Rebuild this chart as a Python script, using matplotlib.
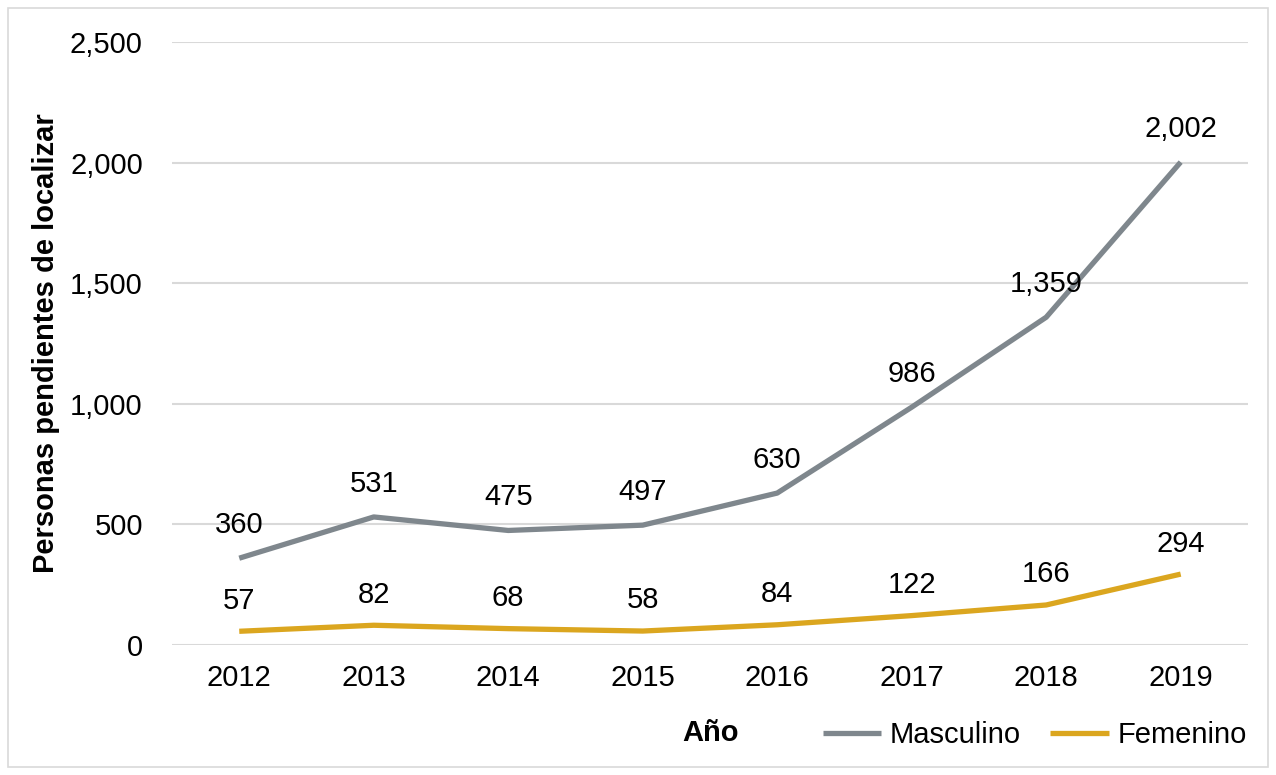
import matplotlib.pyplot as plt
from matplotlib.patches import Rectangle

plt.rcParams['font.family'] = ['Liberation Sans', 'DejaVu Sans']

anios = ['2012', '2013', '2014', '2015', '2016', '2017', '2018', '2019']
masculino = [360, 531, 475, 497, 630, 986, 1359, 2002]
femenino = [57, 82, 68, 58, 84, 122, 166, 294]

gris = '#7f878d'
oro = '#dba61f'

fig = plt.figure(figsize=(12.76, 7.75), dpi=100)
ax = fig.add_axes([0.1348, 0.1677, 0.8432, 0.7781])

x = list(range(len(anios)))
ax.plot(x, masculino, color=gris, lw=3.8, label='Masculino', solid_capstyle='butt')
ax.plot(x, femenino, color=oro, lw=3.8, label='Femenino', solid_capstyle='butt')

for xi, v in zip(x, masculino):
    ax.annotate('{:,}'.format(v), (xi, v), xytext=(0, 24), textcoords='offset points',
                ha='center', va='center', fontsize=21)
for xi, v in zip(x, femenino):
    ax.annotate('{:,}'.format(v), (xi, v), xytext=(0, 22), textcoords='offset points',
                ha='center', va='center', fontsize=21)

ax.set_xlim(-0.5, 7.5)
ax.set_ylim(0, 2500)
ax.set_yticks([0, 500, 1000, 1500, 2000, 2500])
ax.set_yticklabels(['{:,}'.format(t) for t in [0, 500, 1000, 1500, 2000, 2500]])
ax.set_xticks(x)
ax.set_xticklabels(anios)
ax.tick_params(axis='both', length=0, labelsize=21)
ax.tick_params(axis='y', pad=21)
ax.tick_params(axis='x', pad=14)
ax.grid(axis='y', color='#d9d9d9', lw=1.5)
ax.set_axisbelow(True)
for s in ax.spines.values():
    s.set_visible(False)

ax.set_ylabel('Personas pendientes de localizar', fontsize=21, fontweight='bold', labelpad=7)
fig.text(0.557, 0.054, 'Año', fontsize=21, fontweight='bold', ha='center', va='center')

fig.legend(loc='center', bbox_to_anchor=(0.811, 0.051), ncol=2, frameon=False,
           fontsize=21, handlelength=2.0, handletextpad=0.3, columnspacing=1.0)

fig.patches.append(Rectangle((0.006, 0.01), 0.988, 0.98, transform=fig.transFigure,
                             fill=False, edgecolor='#d9d9d9', lw=1.2))

fig.savefig('out.png', dpi=100)
